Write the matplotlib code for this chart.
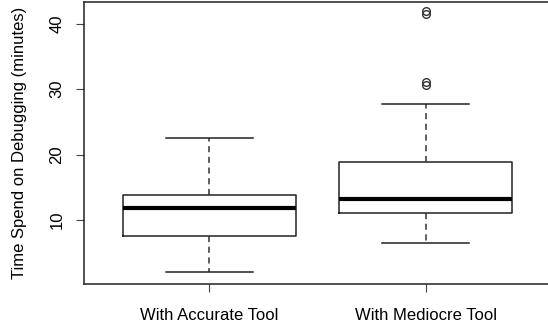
import matplotlib
matplotlib.use("Agg")
import matplotlib.pyplot as plt

groups = ["With Accurate Tool", "With Mediocre Tool"]
lower_whisker = [2.0, 6.4]
q1 = [7.6, 11.1]
median = [11.8, 13.2]
q3 = [13.8, 18.8]
upper_whisker = [22.6, 27.7]
outliers = [[], [30.7, 31.1, 41.5, 41.9]]

plt.rcParams['font.family'] = ['Liberation Sans', 'DejaVu Sans']

fig = plt.figure(figsize=(5.48, 3.27), dpi=100)
ax = fig.add_axes([84 / 548, 1 - 284 / 327, (551 - 84) / 548, (284 - 1.5) / 327])

stats = []
for i, name in enumerate(groups):
    stats.append(dict(label=name, whislo=lower_whisker[i], q1=q1[i], med=median[i],
                      q3=q3[i], whishi=upper_whisker[i], fliers=outliers[i]))

ax.bxp(stats, positions=[1, 2], widths=0.8, capwidths=0.4, showfliers=True,
       boxprops=dict(color='#222222', linewidth=1.1),
       medianprops=dict(color='black', linewidth=3),
       whiskerprops=dict(color='#333333', linewidth=1.1, linestyle=(0, (4, 3))),
       capprops=dict(color='#222222', linewidth=1.1),
       flierprops=dict(marker='o', markerfacecolor='none', markeredgecolor='#333333',
                       markersize=5.5, markeredgewidth=1))

ax.set_xlim(0.42, 2.58)
ax.set_ylim(0.2, 43.4)
ax.set_yticks([10, 20, 30, 40])
ax.set_yticklabels(['10', '20', '30', '40'], rotation=90, va='center', fontsize=12)
ax.set_xticks([1, 2])
ax.set_xticklabels(groups, fontsize=12)
ax.tick_params(axis='both', length=6, width=0.8, color='#444444', pad=8)
ax.tick_params(axis='x', pad=11)
ax.set_ylabel("Time Spend on Debugging (minutes)", fontsize=12, labelpad=16)
for s in ax.spines.values():
    s.set_linewidth(1.1)
    s.set_color('#222222')

fig.savefig("out.png", dpi=100)
